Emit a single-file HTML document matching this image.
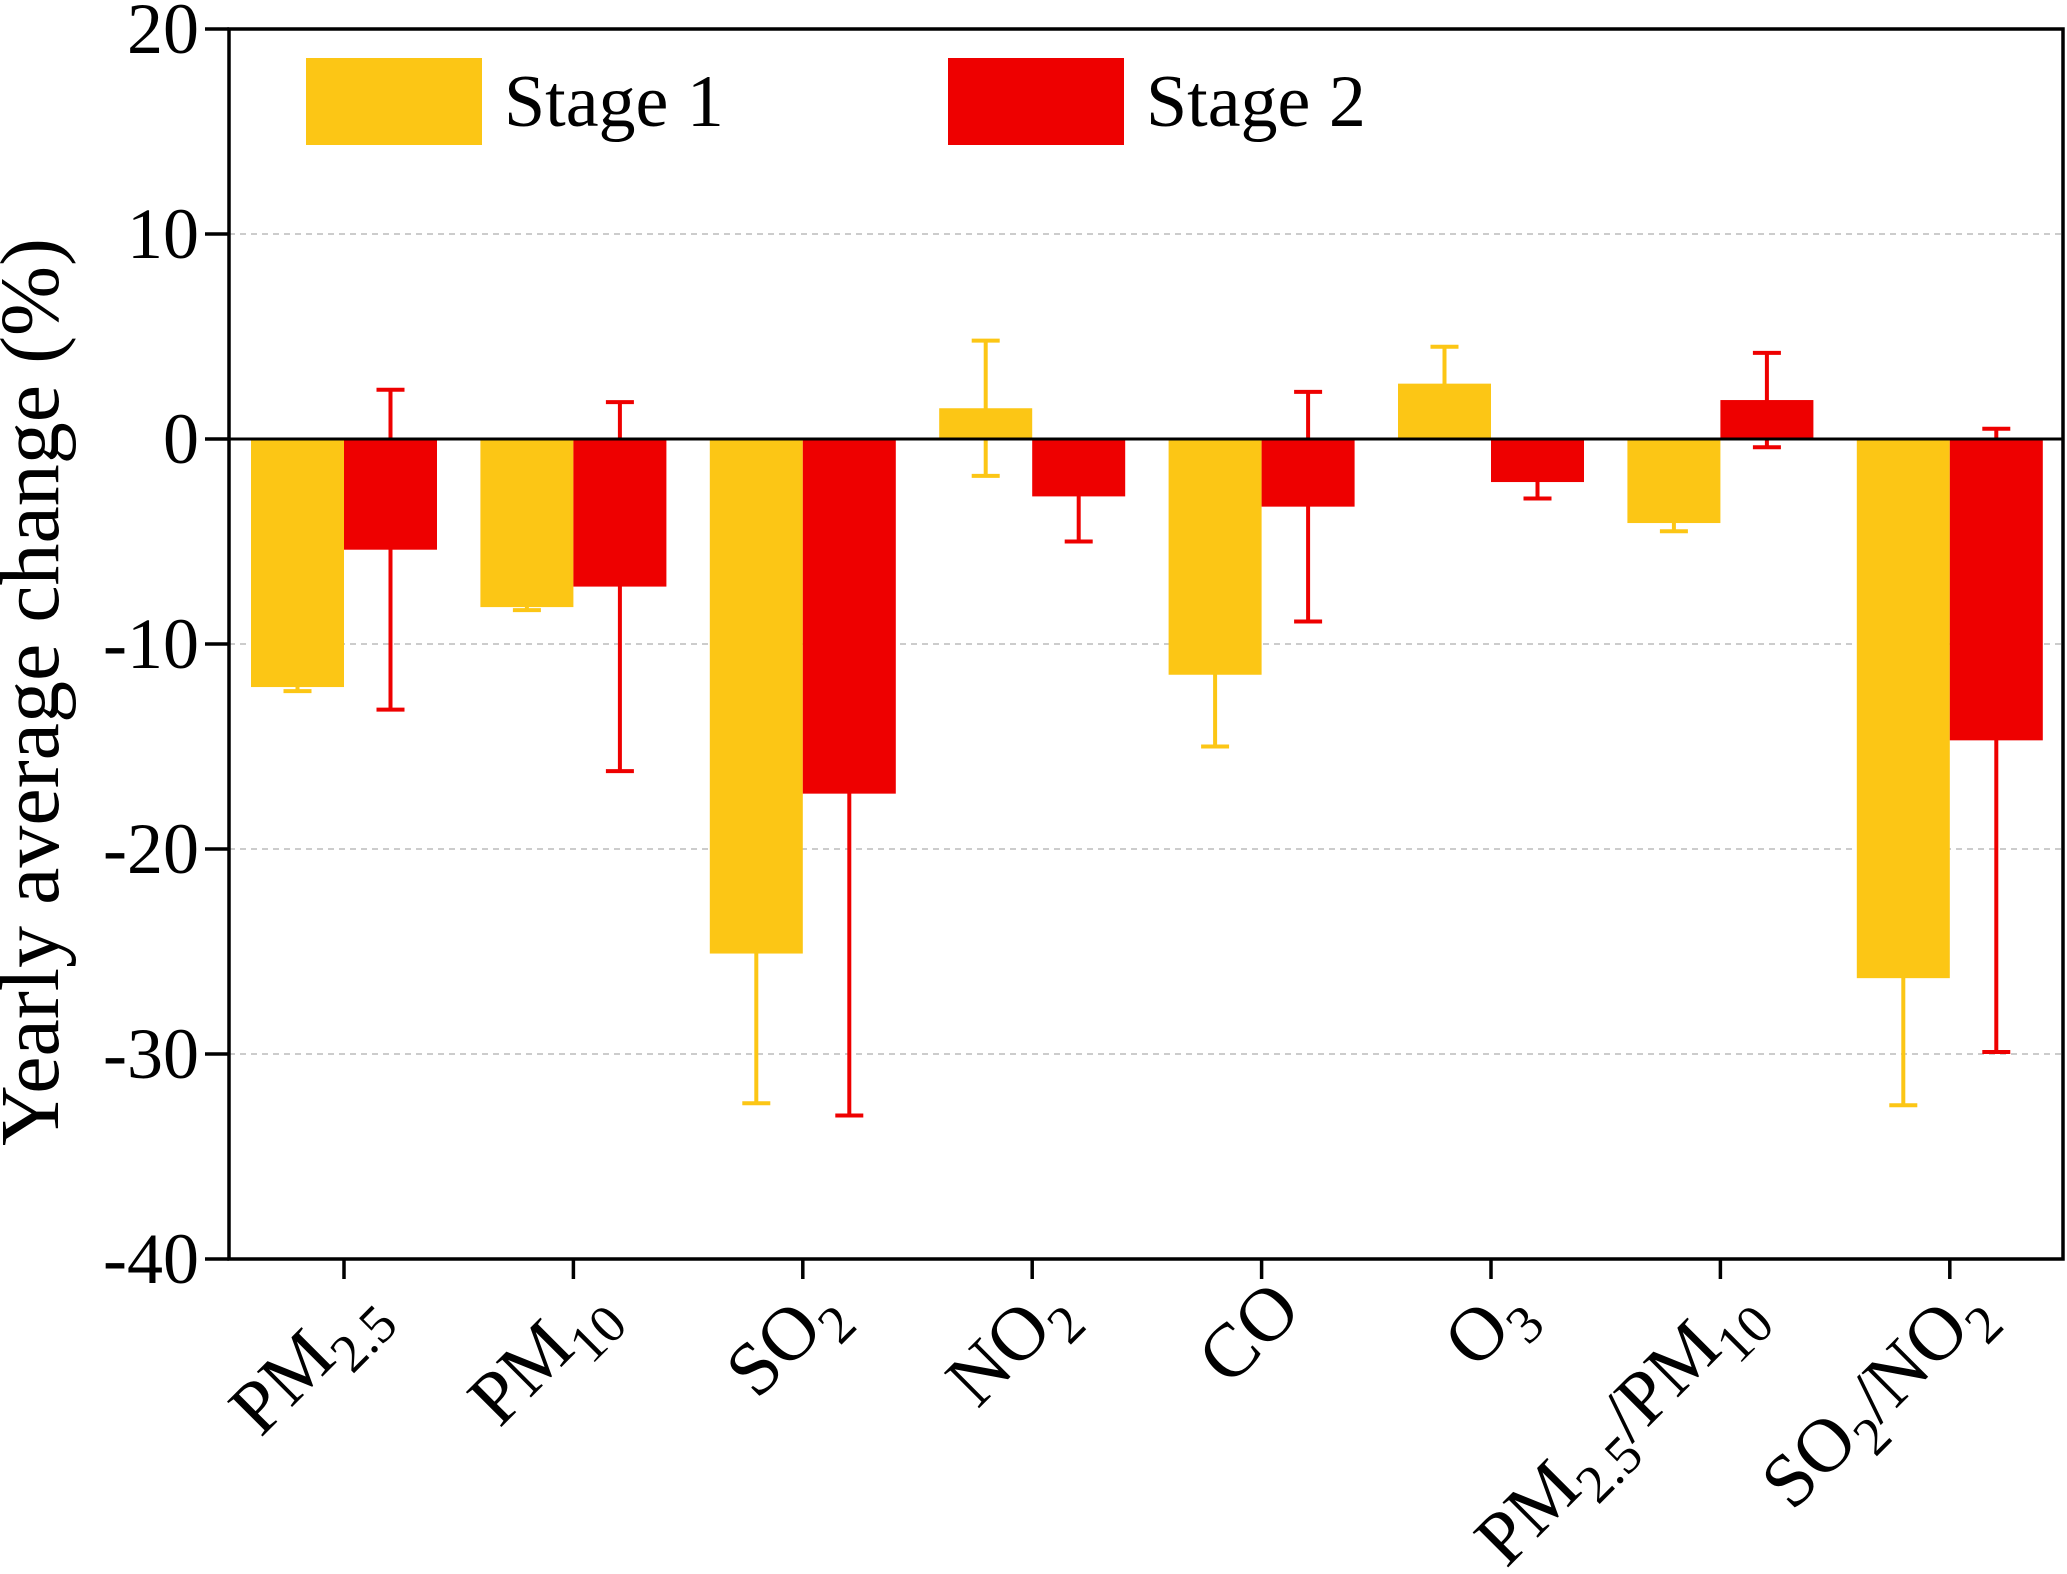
<!DOCTYPE html>
<html><head><meta charset="utf-8"><style>body{margin:0;background:#fff}svg{display:block}svg text{font-family:"Liberation Serif","DejaVu Serif",serif}</style></head>
<body>
<svg id="chart" width="2067" height="1574" xmlns="http://www.w3.org/2000/svg"></svg>
<script>
const categories=["PM2.5","PM10","SO2","NO2","CO","O3","PM2.5/PM10","SO2/NO2"];
const stage1=[-12.1,-8.2,-25.1,1.5,-11.5,2.7,-4.1,-26.3];
const stage1Err=[0.2,0.15,7.3,3.3,3.5,1.8,0.4,6.2];
const stage2=[-5.4,-7.2,-17.3,-2.8,-3.3,-2.1,1.9,-14.7];
const stage2Err=[7.8,9.0,15.7,2.2,5.6,0.8,2.3,15.2];
const yTicks=[20,10,0,-10,-20,-30,-40];
const labels=[[["PM",""],["2.5","s"]],[["PM",""],["10","s"]],[["SO",""],["2","s"]],[["NO",""],["2","s"]],[["CO",""]],[["O",""],["3","s"]],[["PM",""],["2.5","s"],["/PM",""],["10","s"]],[["SO",""],["2","s"],["/NO",""],["2","s"]]];
const L=229,R=2063,T=29,B=1259,yMin=-40,yMax=20;
const y=v=>T+(yMax-v)/(yMax-yMin)*(B-T);
const step=229.4,x0=344;
const xc=i=>x0+i*step;
const bw=93;
const svg=document.getElementById('chart');
const NS="http://www.w3.org/2000/svg";
function mk(t,a,p){const e=document.createElementNS(NS,t);for(const k in a)e.setAttribute(k,a[k]);(p||svg).appendChild(e);return e;}
yTicks.forEach(v=>{if(v!==0&&v!==20&&v!==-40){const g=mk('line',{x1:L,x2:R,y1:y(v),y2:y(v),stroke:'#bbb','stroke-width':1.5,'stroke-dasharray':'6,5'});

}});
function drawSeries(vals,errs,color,off,name){
vals.forEach((v,i)=>{const cx=xc(i)+off;const e=errs[i];
const el=mk('g',{});


mk('line',{x1:cx,x2:cx,y1:y(v+e),y2:y(v-e),stroke:color,'stroke-width':4},el);
mk('line',{x1:cx-14,x2:cx+14,y1:y(v+e),y2:y(v+e),stroke:color,'stroke-width':4},el);
mk('line',{x1:cx-14,x2:cx+14,y1:y(v-e),y2:y(v-e),stroke:color,'stroke-width':4},el);
const r=mk('rect',{x:cx-bw/2,y:Math.min(y(v),y(0)),width:bw,height:Math.abs(y(v)-y(0)),fill:color});

});}
drawSeries(stage1,stage1Err,'#fcc615',-bw/2,'stage1');
drawSeries(stage2,stage2Err,'#ee0000',bw/2,'stage2');
const z=mk('line',{x1:L,x2:R,y1:y(0),y2:y(0),stroke:'#000','stroke-width':3});


const fr=mk('rect',{x:L,y:T,width:R-L,height:B-T,fill:'none',stroke:'#000','stroke-width':3.5});


yTicks.forEach(v=>{mk('line',{x1:L-24,x2:L,y1:y(v),y2:y(v),stroke:'#000','stroke-width':3.5});
const t=mk('text',{x:L-30,y:y(v)+24,'text-anchor':'end','font-size':72});t.textContent=v;

});
categories.forEach((c,i)=>{mk('line',{x1:xc(i),x2:xc(i),y1:B,y2:B+20,stroke:'#000','stroke-width':3.5});
const t=mk('text',{'text-anchor':'end','font-size':76,transform:`translate(${xc(i)+42},${B+54}) rotate(-45)`});


labels[i].forEach(p=>{const s=mk('tspan',{},t);s.textContent=p[0];if(p[1]==='s'){s.setAttribute('baseline-shift','-20');s.setAttribute('font-size','54');}});});
const yt=mk('text',{'text-anchor':'middle','font-size':84,transform:`translate(58,692) rotate(-90)`});
yt.textContent='Yearly average change (%)';


[[306,'#fcc615','Stage 1'],[948,'#ee0000','Stage 2']].forEach(([lx,c,n])=>{const g=mk('g',{});


mk('rect',{x:lx,y:58,width:176,height:87,fill:c},g);
const t=mk('text',{x:lx+198,y:126,'font-size':74},g);t.textContent=n;});
</script>
</body></html>
